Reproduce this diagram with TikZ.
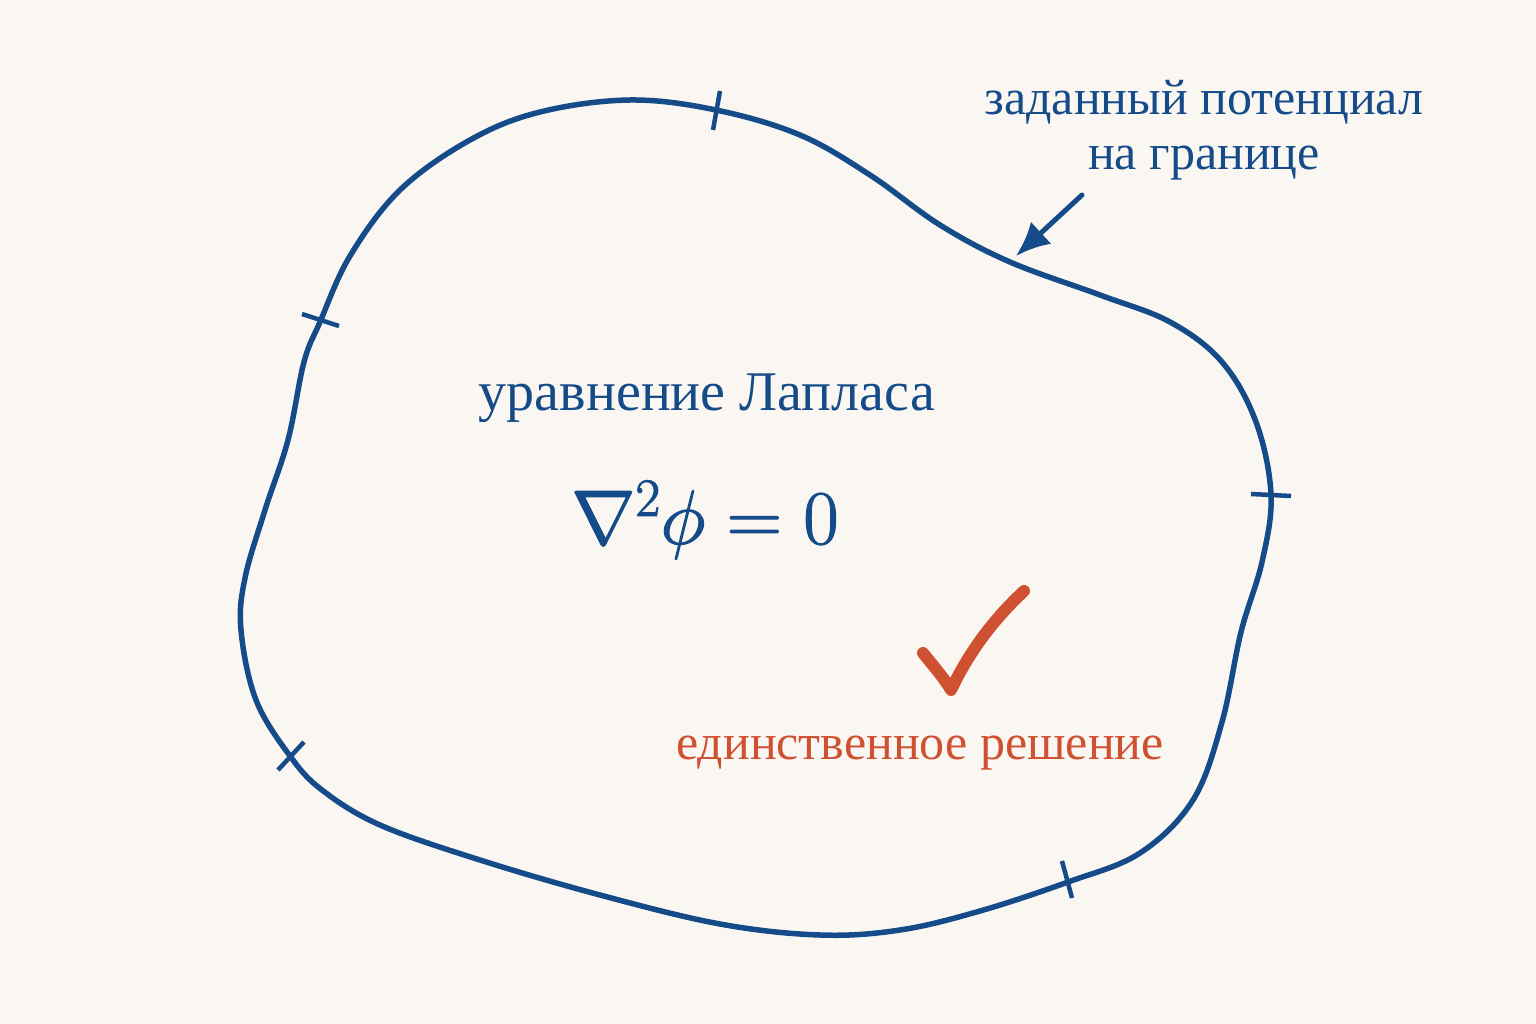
\RequirePackage{fix-cm}
\documentclass[tikz,border=0pt]{standalone}
\usepackage[no-math]{fontspec}
\setmainfont{Liberation Serif}
\usetikzlibrary{arrows.meta}
\definecolor{bg}{RGB}{250,247,242}
\definecolor{navy}{RGB}{22,75,138}
\definecolor{rust}{RGB}{208,80,50}
\tikzset{
  boundary/.style={draw=navy, line width=5.5pt},
  tickmark/.style={draw=navy, line width=4.5pt},
  bluelabel/.style={text=navy, inner sep=0pt, align=center},
  redlabel/.style={text=rust, inner sep=0pt},
}
\newcommand{\heavytext}[1]{\special{pdf:literal direct 2 Tr 1.1 w}#1\special{pdf:literal direct 0 Tr}}
\begin{document}
\begin{tikzpicture}[x=1pt,y=-1pt]
\fill[bg] (0,0) rectangle (1536,1024);
\useasboundingbox (0,0) rectangle (1536,1024);
% boundary
\draw[boundary] plot[smooth cycle, tension=0.6] coordinates {
 (630,100) (716,110) (800,135) (870,175) (940,225) (1010,262) (1100,295)
 (1170,322) (1222,362) (1256,422) (1271,495) (1262,562) (1241,632)
 (1222,722) (1193,800) (1140,853) (1068,882) (980,911) (900,930)
 (820,935) (720,924) (600,895) (480,860) (380,825) (322,790) (290,756)
 (256,700) (241,630) (245,578) (265,510) (288,440) (304,362) (320,322)
 (350,256) (400,190) (470,140) (540,112)};
% tick marks
\draw[tickmark] (720,91) -- (713,130);
\draw[tickmark] (302,314) -- (339,326);
\draw[tickmark] (1251,494) -- (1291,496);
\draw[tickmark] (1062,861) -- (1072,898);
\draw[tickmark] (278,770) -- (304,742);
% labels
\node[bluelabel, font=\fontsize{50}{55}\selectfont] (given) at (1204,130)
  {заданный потенциал\\на границе};
\coordinate (arrowstart) at (1082,195);
\coordinate (arrowend) at (1016,256);
\draw[navy, line width=5pt, line cap=round, -{Latex[length=34pt,width=30pt]}] (arrowstart) -- (arrowend);
\node[bluelabel, font=\fontsize{56}{60}\selectfont] (laplace) at (707,398) {уравнение Лапласа};
\node[bluelabel, font=\fontsize{77}{82}\selectfont] (eq) at (705,520) {\heavytext{$\nabla^2\phi = 0$}};
% check mark
\coordinate (c1) at (923,653);
\coordinate (c2) at (951,690);
\coordinate (c3) at (1024,591);
\draw[rust, line width=12pt, line cap=round, line join=round]
  (c1) .. controls (935,668) and (944,678) .. (c2) .. controls (970,650) and (995,618) .. (c3);
\node[redlabel, font=\fontsize{50}{55}\selectfont] (unique) at (920,753) {единственное решение};
\end{tikzpicture}
\end{document}
